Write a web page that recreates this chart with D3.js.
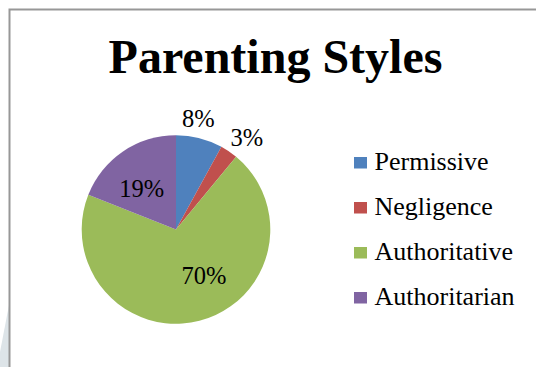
<!DOCTYPE html>
<html>
<head>
<meta charset="utf-8">
<script src="https://cdn.jsdelivr.net/npm/d3@7"></script>
<style>
html,body{margin:0;padding:0;background:#fff;}
svg{display:block;}
</style>
</head>
<body>
<svg id="chart" width="536" height="367"></svg>
<script>
// ---- data ----
const categories = ["Permissive", "Negligence", "Authoritative", "Authoritarian"];
const values = [8, 3, 70, 19];
const labels = ["8%", "3%", "70%", "19%"];
const colors = ["#4F81BD", "#C0504D", "#9BBB59", "#8064A2"];
const title = "Parenting Styles";

// ---- layout ----
const W = 536, H = 367;
const cx = 176, cy = 229.5, R = 94.3;
// label placement (radius factor, angle shift in degrees) per slice
const labelLayout = [[1.195, -3], [1.225, 3.6], [0.576, -16.6], [0.565, -6]];

const svg = d3.select("#chart");
const font = "'Liberation Serif','Times New Roman',serif";

// faint background shape bottom-left
svg.append("path")
  .attr("d", "M9,305 L9,367 L0,367 L0,352 Z")
  .attr("fill", "#dde4e8");

// frame
svg.append("rect")
  .attr("x", 9.5).attr("y", 9.5)
  .attr("width", 700).attr("height", 700)
  .attr("fill", "none")
  .attr("stroke", "#979797")
  .attr("stroke-width", 2);

// title
svg.append("text")
  .attr("x", 275.5).attr("y", 73)
  .attr("text-anchor", "middle")
  .attr("font-family", font)
  .attr("font-weight", "bold")
  .attr("font-size", 48)
  .attr("fill", "#000")
  .text(title);

const data = categories.map((c, i) => ({cat: c, value: values[i], label: labels[i], color: colors[i], idx: i}));

const pie = d3.pie().sort(null).value(d => d.value).startAngle(0).endAngle(2 * Math.PI);
const arcs = pie(data);
const arc = d3.arc().innerRadius(0).outerRadius(R);

const g = svg.append("g").attr("transform", `translate(${cx},${cy})`);
g.selectAll("path.slice")
  .data(arcs)
  .enter().append("path")
  .attr("class", "slice")
  .attr("d", arc)
  .attr("fill", d => d.data.color);

g.selectAll("text.lbl")
  .data(arcs)
  .enter().append("text")
  .attr("class", "lbl")
  .attr("transform", d => {
    const [rf, shift] = labelLayout[d.data.idx];
    const a = (d.startAngle + d.endAngle) / 2 + shift * Math.PI / 180;
    const r = R * rf;
    return `translate(${r * Math.sin(a)},${-r * Math.cos(a)})`;
  })
  .attr("dy", "0.33em")
  .attr("text-anchor", "middle")
  .attr("font-family", font)
  .attr("font-size", 24.5)
  .attr("fill", "#000")
  .text(d => d.data.label);

// legend
const legY = d3.scaleBand().domain(categories).range([147.5, 327.5]);
const leg = svg.append("g");
const items = leg.selectAll("g.item").data(data).enter().append("g")
  .attr("class", "item")
  .attr("transform", d => `translate(354,${legY(d.cat) + 22.5})`);
items.append("rect")
  .attr("x", 0).attr("y", -13).attr("width", 13).attr("height", 11.5)
  .attr("fill", d => d.color);
items.append("text")
  .attr("x", 20.5).attr("y", 0)
  .attr("font-family", font)
  .attr("font-size", 26)
  .attr("fill", "#000")
  .text(d => d.cat);
</script>
</body>
</html>
